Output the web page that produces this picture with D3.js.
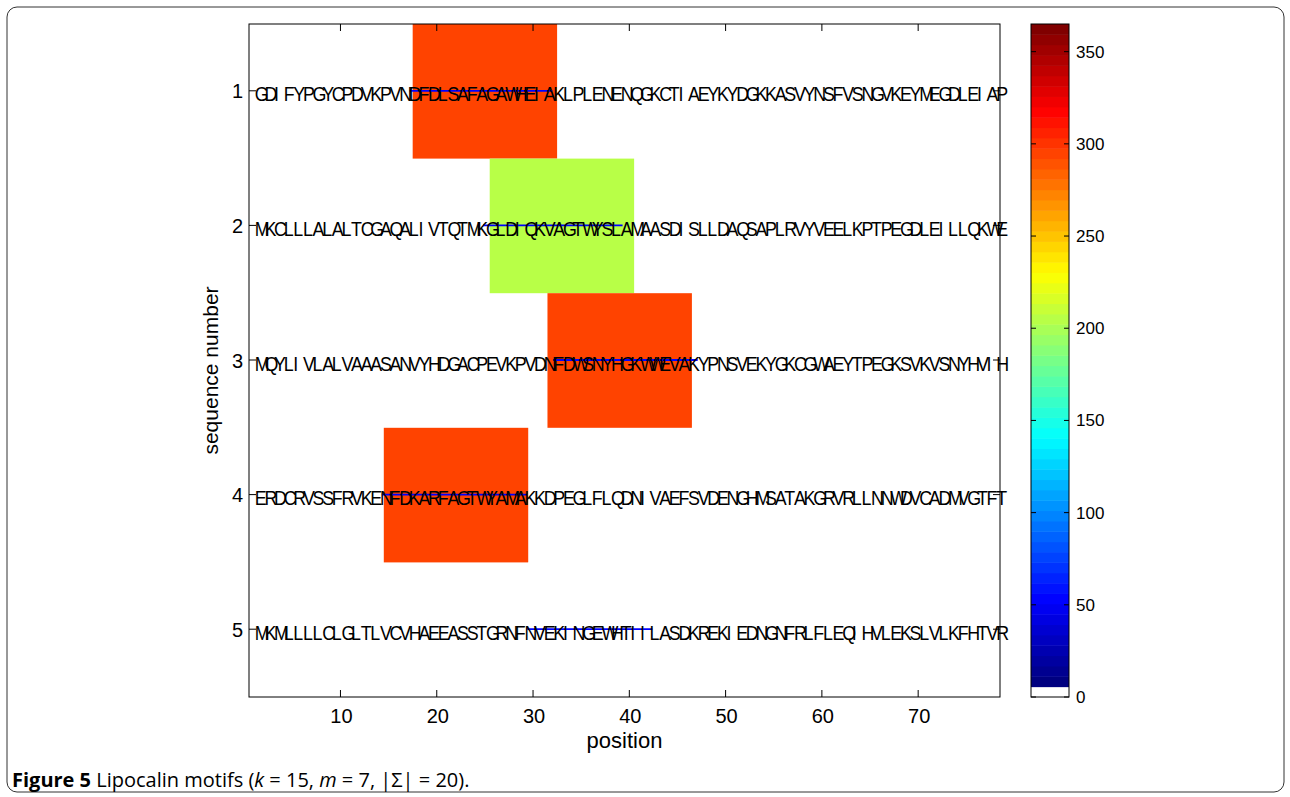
<!DOCTYPE html>
<html>
<head>
<meta charset="utf-8">
<script src="https://cdn.jsdelivr.net/npm/d3@7"></script>
<style>
  body { margin: 0; background: #fff; }
  svg { display: block; }
</style>
</head>
<body>
<div id="chart"></div>
<script>
// Sequences, one per row (positions 1..78)
const sequences = [
	"GDIFYPGYCPDVKPVNDFDLSAFAGAWHEIAKLPLENENQGKCTIAEYKYDGKKASVYNSFVSNGVKEYMEGDLEIAP",
	"MKCLLLALALTCGAQALIVTQTMKGLDIQKVAGTWYSLAMAASDISLLDAQSAPLRVYVEELKPTPEGDLEILLQKWE",
	"MQYLIVLALVAAASANVYHDGACPEVKPVDNFDWSNYHGKWWEVAKYPNSVEKYGKCGWAEYTPEGKSVKVSNYHVIH",
	"ERDCRVSSFRVKENFDKARFAGTWYAMAKKDPEGLFLQDNIVAEFSVDENGHMSATAKGRVRLLNNWDVCADMVGTFT",
	"MKMLLLLCLGLTLVCVHAEEASSTGRNFNVEKINGEWHTIILASDKREKIEDNGNFRLFLEQIHVLEKSLVLKFHTVR"
];
const rows = [1, 2, 3, 4, 5];
// best motif window start per row (k = 15) and its score
const motifStart = [18, 26, 32, 15, 30];
const motifScore = [295, 205, 295, 295, 0];
const motifK = 15;
// blue marker lines (annotated sites), start/end positions
const siteStart = [17.2, 24.8, 32.1, 14.3, 29.4];
const siteEnd = [32.0, 39.3, 47.1, 29.4, 42.4];

const xTicks = [10, 20, 30, 40, 50, 60, 70];
const cbTicks = [0, 50, 100, 150, 200, 250, 300, 350];
const cbMax = 365;

const W = 1290, H = 797;
const plot = {left: 249, right: 1000, top: 24, bottom: 697};
const cb = {left: 1031, right: 1069};

const svg = d3.select("#chart").append("svg")
	.attr("width", W)
	.attr("height", H);

// outer rounded frame
svg.append("rect")
	.attr("x", 7).attr("y", 7)
	.attr("width", W - 13).attr("height", 785)
	.attr("rx", 10)
	.attr("fill", "none")
	.attr("stroke", "#333")
	.attr("stroke-width", 1);

const x = d3.scaleLinear().domain([0.5, 78.5]).range([plot.left, plot.right]);
const y = d3.scaleLinear().domain([0.5, 5.5]).range([plot.top, plot.bottom]);

// jet colormap with white as the lowest entry (65 entries)
const jet = t => {
	const c = v => Math.max(0, Math.min(1, v));
	return d3.rgb(255 * c(1.5 - Math.abs(4 * t - 3)), 255 * c(1.5 - Math.abs(4 * t - 2)), 255 * c(1.5 - Math.abs(4 * t - 1)));
};
const nColors = 65;
const colormap = d3.range(nColors).map(i => i === 0 ? d3.rgb(255, 255, 255) : jet((i - 1) / (nColors - 2)));
const colorOf = v => colormap[Math.min(nColors - 1, Math.floor(v / cbMax * nColors))];

// motif boxes
svg.append("g").selectAll("rect")
	.data(rows)
	.enter()
	.append("rect")
	.attr("x", (d, i) => x(motifStart[i] - 0.5))
	.attr("width", (d, i) => x(motifStart[i] + motifK - 0.5) - x(motifStart[i] - 0.5))
	.attr("y", d => y(d - 0.5))
	.attr("height", d => y(d + 0.5) - y(d - 0.5))
	.attr("fill", (d, i) => colorOf(motifScore[i]));

// blue site lines
svg.append("g").selectAll("line")
	.data(rows)
	.enter()
	.append("line")
	.attr("x1", (d, i) => x(siteStart[i]))
	.attr("x2", (d, i) => x(siteEnd[i]))
	.attr("y1", d => y(d) - 0.5)
	.attr("y2", d => y(d) - 0.5)
	.attr("stroke", "#0000ff")
	.attr("stroke-width", 1.8);

// sequence letters, one per position
const letters = svg.append("g")
	.attr("font-family", "Liberation Sans, Arial, sans-serif")
	.attr("font-size", 21)
	.attr("fill", "#000");
rows.forEach((r, i) => {
	letters.selectAll(null)
		.data(sequences[i].split(""))
		.enter()
		.append("text")
		.attr("transform", (c, j) => `translate(${x(j + 1) + 1},${y(r) + 10}) scale(0.85,1)`)
		.text(c => c);
});

// axes frame and ticks
const axes = svg.append("g")
	.attr("stroke", "#000")
	.attr("stroke-width", 1);
axes.append("rect")
	.attr("x", plot.left).attr("y", plot.top)
	.attr("width", plot.right - plot.left).attr("height", plot.bottom - plot.top)
	.attr("fill", "none");
const tl = 7;
xTicks.forEach(t => {
	axes.append("line").attr("x1", x(t)).attr("x2", x(t)).attr("y1", plot.bottom).attr("y2", plot.bottom - tl);
	axes.append("line").attr("x1", x(t)).attr("x2", x(t)).attr("y1", plot.top).attr("y2", plot.top + tl);
});
rows.forEach(r => {
	axes.append("line").attr("x1", plot.left).attr("x2", plot.left + tl).attr("y1", y(r) - 0.5).attr("y2", y(r) - 0.5);
	axes.append("line").attr("x1", plot.right).attr("x2", plot.right - tl).attr("y1", y(r) - 0.5).attr("y2", y(r) - 0.5);
});

const labels = svg.append("g")
	.attr("font-family", "Liberation Sans, Arial, sans-serif")
	.attr("fill", "#000");
labels.selectAll(".xt")
	.data(xTicks)
	.enter()
	.append("text")
	.attr("x", d => x(d) + 1)
	.attr("y", 723)
	.attr("text-anchor", "middle")
	.attr("font-size", 20)
	.text(d => d);
labels.selectAll(".yt")
	.data(rows)
	.enter()
	.append("text")
	.attr("x", 243)
	.attr("y", d => y(d) + 7)
	.attr("text-anchor", "end")
	.attr("font-size", 20)
	.text(d => d);
labels.append("text")
	.attr("x", (plot.left + plot.right) / 2)
	.attr("y", 748)
	.attr("text-anchor", "middle")
	.attr("font-size", 22)
	.text("position");
labels.append("text")
	.attr("transform", `translate(218,${(plot.top + plot.bottom) / 2 + 10}) rotate(-90)`)
	.attr("text-anchor", "middle")
	.attr("font-size", 21)
	.text("sequence number");

// colorbar
const cy = d3.scaleLinear().domain([0, cbMax]).range([plot.bottom, plot.top]);
svg.append("g").selectAll("rect")
	.data(colormap)
	.enter()
	.append("rect")
	.attr("x", cb.left)
	.attr("width", cb.right - cb.left)
	.attr("y", (d, i) => cy((i + 1) * cbMax / nColors))
	.attr("height", cy(0) - cy(cbMax / nColors) + 0.5)
	.attr("fill", d => d);
const cbAxes = svg.append("g").attr("stroke", "#000").attr("stroke-width", 1);
cbAxes.append("rect")
	.attr("x", cb.left).attr("y", plot.top)
	.attr("width", cb.right - cb.left).attr("height", plot.bottom - plot.top)
	.attr("fill", "none");
cbTicks.forEach(t => {
	cbAxes.append("line").attr("x1", cb.left).attr("x2", cb.left + 5).attr("y1", cy(t)).attr("y2", cy(t));
	cbAxes.append("line").attr("x1", cb.right).attr("x2", cb.right - 5).attr("y1", cy(t)).attr("y2", cy(t));
});
labels.selectAll(".ct")
	.data(cbTicks)
	.enter()
	.append("text")
	.attr("x", 1076)
	.attr("y", d => cy(d) + 6)
	.attr("font-size", 17)
	.text(d => d);

// caption
const cap = svg.append("text")
	.attr("x", 12)
	.attr("y", 787)
	.attr("font-family", "Open Sans, Noto Sans, sans-serif")
	.attr("font-size", 20)
	.attr("fill", "#000");
cap.append("tspan").attr("font-weight", "bold").text("Figure 5");
cap.append("tspan").text(" Lipocalin motifs (");
cap.append("tspan").attr("font-style", "italic").text("k");
cap.append("tspan").text(" = 15, ");
cap.append("tspan").attr("font-style", "italic").text("m");
cap.append("tspan").text(" = 7, |Σ| = 20).");
</script>
</body>
</html>
